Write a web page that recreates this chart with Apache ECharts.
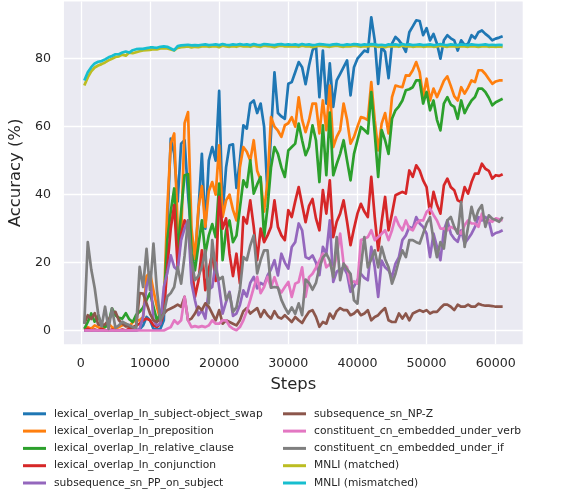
<!DOCTYPE html>
<html>
<head>
<meta charset="utf-8">
<script src="https://cdn.jsdelivr.net/npm/echarts@6/dist/echarts.min.js"></script>
<style>html,body{margin:0;padding:0;background:#fff;}#c{width:568px;height:492px;}</style>
</head>
<body>
<div id="c"></div>
<script>
// evaluation steps: every 500 steps from 500 to 61000
const steps = Array.from({length: 122}, (_, i) => (i + 1) * 500);
const xTicks = [0, 10000, 20000, 30000, 40000, 50000, 60000];
const yTicks = [0, 20, 40, 60, 80];
const names = [
  'lexical_overlap_ln_subject-object_swap',
  'lexical_overlap_ln_preposition',
  'lexical_overlap_ln_relative_clause',
  'lexical_overlap_ln_conjunction',
  'subsequence_sn_PP_on_subject',
  'subsequence_sn_NP-Z',
  'constituent_cn_embedded_under_verb',
  'constituent_cn_embedded_under_if',
  'MNLI (matched)',
  'MNLI (mismatched)'
];
const colors = ['#1f77b4','#ff7f0e','#2ca02c','#d62728','#9467bd','#8c564b','#e377c2','#7f7f7f','#bcbd22','#17becf'];

const subjObjSwap = [
  0,0,0,0,0,0,0,0,0,0,
  0,0,0,0,0,0,0.3,1.5,4,3,
  0.5,0.3,0.5,3,30,56.5,52,38,55,56,
  40,28,20.7,35,52,30,50,54,50,70.5,
  34.5,48,54.5,54.8,42,50,60.4,59.4,66.8,67.7,
  64,66.8,60,40,58,76,64,63,62.3,72.6,
  73.1,76,79,77.5,72.5,78,82.4,84,68.7,82.4,
  66.8,78.6,65.8,73.6,75.5,77.5,79.5,69.2,77.5,80,
  81.2,82.4,82,92.2,85.4,72.6,83.4,82,74.3,84.4,
  86.4,85.4,84,82,87.8,89.5,91.3,91.1,86.9,89,
  85.4,87.3,84.4,80,85.4,86.9,86,85.4,82.4,85.4,
  84,84.4,86.9,86,87.8,88.3,87.3,86.5,85.4,85.9,
  86.2,86.6
];
const preposition = [
  0.5,1,0.5,1.5,1,0.5,1,2,1,0.5,
  1,1.5,2,1,2.5,3,3,4,16,17,
  11.8,7,3,7,36,55,58,30,27,61,
  64.3,30,21,36,42.5,30.5,41,43.7,40,54.5,
  33.4,38.3,40,35.5,32.4,48,54,52.6,50,56,
  47,44.2,35,44,62.8,60,58.8,57,60.4,61,
  62.8,60,68.6,62,58.4,61.9,66.8,66.8,58,67.7,
  59,72.1,54,57,59,66.8,62,55,57,60,
  62.8,62.5,61.9,73.1,61.9,53,60.9,64,58,68.7,
  72.1,71.8,71.6,75.1,75,76.6,79,76,68.7,74.1,
  67.7,71.2,68.7,71,73.5,74.8,72,69,67.7,71.6,
  69.7,71.5,73.6,73.1,76.6,76.6,75.5,74,72.6,73.3,
  73.6,73.6
];
const relativeClause = [
  0.5,2.5,5,2.6,4.3,1.8,1,2,6.5,4.5,
  3.7,3.5,5.1,3.3,2.5,4.6,5.5,6.7,9,11,
  7,3,5,8,26.6,35,41.8,22.6,35,45.7,
  46,22.6,17.7,25,32.4,22.6,28,31.3,27.5,43.2,
  20.7,29.5,32.4,26,27.9,36,44.2,42.2,50.1,40.3,
  43,45.2,27.5,36.3,48,54,52,48,45.2,53,
  54,55,60.9,56,51.6,54,60.4,56,43.7,60.4,
  45.7,64.1,45.7,49,52,56,50,44.2,52,56,
  59.9,59,58,70.2,58,45.2,59,56,52,62.3,
  64.8,66,67.7,70.7,71,71.6,73.6,73.6,66.8,70.2,
  64.8,67.7,62,58.9,66.8,68.7,66.5,65.8,62.3,67.7,
  64,66,67.7,68.7,71.2,71.2,70.2,68.5,66.3,67.2,
  67.7,68.2
];
const conjunction = [
  0,0.5,0,0.3,0,0.5,0,0,0.3,0,
  0,0.3,0,0.5,1,1.5,2,3,3.5,3,
  1.5,1,2,5,18.7,30,36.9,18.7,28.5,32.4,
  30.8,20,9.9,14.6,23.6,11.9,18,22.6,14.6,39.3,
  30,33,22.6,16,22.6,13.9,33.4,31.5,38.3,30.5,
  20.7,30,26,28,30.5,38.3,30.5,28,26.6,35.4,
  33.4,38,42.2,37,31.9,36.7,38.7,33,29.5,41.3,
  34.4,44.2,27.5,32,34.4,38.3,32,25.1,30,34.4,
  37.3,35,33.4,45.2,33.4,23.6,32,39.3,29.5,34.4,
  39.8,40.3,40.8,40.3,47.1,45.2,48.6,47.1,44.2,42.2,
  34.4,40.8,37,34.4,42.7,44.7,42.2,41.3,38.3,37.8,
  42.2,40.3,43.7,46.2,46.2,49.1,47.6,47,44.7,45.7,
  45.5,46
];
const ppOnSubject = [
  0,0,0,0,0,0,0,0,0,0,
  0,0,0,0,0,0,0.5,4,13,17,
  3,1.5,2,12.8,17,22.1,18.7,17.7,26.6,30,
  32.4,14,8.9,4.5,6,3.5,12,12.8,20,12.8,
  5,8.4,11.4,4.3,5,7.5,11.8,10,14,15.8,
  12.4,14,13.4,16.2,18,20.7,16.2,22.6,20,18.2,
  24.6,26,31.5,29.5,21.6,21.1,22.1,20,16.3,24.6,
  22.6,32.4,14.3,17.3,18,18.6,16.7,11.4,13,14.8,
  16.7,15.5,14.8,24.6,18.6,9.9,20.6,18.6,17.7,15.8,
  19.7,21.6,26.6,28,30.5,30,33.4,31.5,30.5,28.5,
  21.6,28.5,24.6,20.7,29.5,32.4,28.5,27,26.1,29.5,
  25.6,27,28.5,30.5,33.4,32.4,33.4,32.4,28,28.7,
  29,29.5
];
const npZ = [
  2,4.5,3.4,5.1,1.8,1.5,1.8,3,5.1,5.5,
  3,2,1.2,1.2,0.8,1.2,11,10.9,8,5,
  3,2.5,3.5,5,6,6.5,7,7.6,7,9.9,
  3,3.5,5,7,6,8,7,5,3,6,
  2,3,2.5,2,1.5,3,5.7,6.6,5,5.8,
  6.6,4,6,4.5,3.5,5.7,4,3.5,4.5,3.5,
  2.5,4,3,2.2,4,5.5,6,4,1.1,2.5,
  2,5,3.5,5.7,6.6,6,6,4.5,5,6,
  4.5,5,6,3,4,4.5,5.7,6.6,3,2.5,
  2.5,5,3.5,5,3,5,5.5,6,5.5,6,
  5,5.5,5.5,6.6,7.6,7.6,7,6,7.6,7,
  7,7.6,7,7,7.9,7.5,7.3,7.3,7.2,7,
  7,7
];
const underVerb = [
  0,0,0,0,0,0,0,0,0,0,
  0,0,0,0,0,0,0,0,0,0,
  0,0,0,0,0.5,1,3,2,3,9.9,
  3,1,1.3,1,1.3,1,1.5,3,2,2,
  3,3,1.3,0.5,0.1,1,3,5.7,9,12.6,
  15.8,11,12.8,15.8,12.6,15.7,12.6,11.2,12.8,14.3,
  9.9,13.8,14.3,18.6,9.9,15.7,16.7,18.5,20.6,22.6,
  18.6,19.6,17.7,22,28.5,19.6,18.6,13.8,14.5,13.8,
  26.6,27,27.5,29.5,26.6,27.5,28.5,29.5,26.6,29.5,
  33.4,31,29.5,32.4,30,29.5,31.5,32.4,32.4,34.9,
  35.9,34,32.4,30,30,29.5,30.5,30,29.5,28.5,
  31,32.4,31.5,31.5,30.5,34.4,31.5,32.5,32,33,
  32.7,32.4
];
const underIf = [
  2,26,18,12.5,5,1.2,7,0.5,6.5,0.8,
  1.5,2.6,2,1.6,1,0.8,18.7,12.8,24,11.9,
  25.6,11.9,3,5,10,11,12.8,18.7,13.8,22,
  32.4,20.7,14.8,16,18.7,23.6,8,26.6,17.7,15,
  15.8,9,11,5.5,6.8,12,21.6,20.7,25,28,
  16.8,20.7,23.6,23.6,12.6,12.8,12.6,9,6.8,5,
  6.8,4.9,8,4.5,15,14,12,14,18.6,21.5,
  22.6,20.6,15.7,27.5,14.8,19.7,18,16.7,8.9,7.9,
  18.6,27.5,18.6,21,23.6,18.6,24.6,21,18.6,13.8,
  16.7,20.6,23.6,21.6,26.6,26.6,26,25.6,28.5,31.5,
  33.4,26.6,21.6,26,24.1,32.4,33.4,30.5,28.5,37.8,
  24.6,30.5,36.4,32.4,35.4,36.9,30.5,33.9,32.9,32.5,
  32,33.4
];
const mnliMatched = [
  72.1,74.5,76.3,77.4,78.0,78.4,78.9,79.5,80.0,80.5,
  80.7,81.2,80.9,81.8,81.6,81.9,82.2,82.4,82.5,82.6,
  82.8,82.7,83.0,83.1,83.0,82.7,82.4,83.2,83.4,83.5,
  83.6,83.3,83.5,83.4,83.6,83.7,83.5,83.6,83.7,83.4,
  83.8,83.6,83.5,83.7,83.5,83.8,83.6,83.7,83.5,83.8,
  83.6,83.5,83.8,83.7,83.6,83.4,83.7,83.8,83.6,83.7,
  83.6,83.7,83.5,83.8,83.6,83.7,83.4,83.6,83.8,83.7,
  83.6,83.5,83.7,83.8,83.6,83.5,83.7,83.6,83.8,83.7,
  83.5,83.7,83.6,83.8,83.7,83.5,83.6,83.4,83.7,83.6,
  83.7,83.5,83.8,83.6,83.7,83.5,83.6,83.7,83.5,83.6,
  83.7,83.5,83.6,83.8,83.6,83.5,83.7,83.6,83.5,83.7,
  83.6,83.5,83.7,83.6,83.5,83.6,83.7,83.5,83.6,83.5,
  83.6,83.5
];
const mnliMismatched = [
  73.6,76.0,77.5,78.6,79.1,79.3,79.8,80.4,80.8,81.3,
  81.3,81.8,82.1,81.8,82.5,82.8,82.9,82.9,83.1,83.3,
  83.3,83.2,83.5,83.6,83.5,83.0,82.5,83.7,83.9,84.0,
  84.1,83.9,84.0,83.9,84.1,84.2,84.0,84.1,84.2,84.0,
  84.3,84.1,84.0,84.2,84.1,84.3,84.1,84.2,84.0,84.3,
  84.1,84.0,84.3,84.2,84.1,84.0,84.2,84.3,84.1,84.2,
  84.1,84.2,84.0,84.3,84.1,84.2,84.0,84.1,84.3,84.2,
  84.1,84.0,84.2,84.3,84.1,84.0,84.2,84.1,84.3,84.2,
  84.0,84.2,84.1,84.3,84.2,84.0,84.1,83.9,84.2,84.1,
  84.2,84.0,84.3,84.1,84.2,84.0,84.1,84.2,84.0,84.1,
  84.2,84.0,84.1,84.3,84.1,84.0,84.2,84.1,84.0,84.2,
  84.1,84.0,84.2,84.1,84.0,84.1,84.2,84.0,84.1,84.0,
  84.1,84.0
];
const seriesValues = [subjObjSwap, preposition, relativeClause, conjunction, ppOnSubject,
  npZ, underVerb, underIf, mnliMatched, mnliMismatched];

const FONT = 'DejaVu Sans';
const TXT = '#262626';
const chart = echarts.init(document.getElementById('c'), null, {renderer: 'canvas'});
const legendIcon = 'path://M0,0 L23,0 L23,3 L0,3 Z';
const legendCommon = {
  orient: 'vertical', top: 408.3, height: 120, padding: 0,
  itemWidth: 23, itemHeight: 10, itemGap: 6.3,
  icon: legendIcon,
  textStyle: {fontFamily: FONT, fontSize: 10.7, lineHeight: 10, color: TXT, padding: [0, 0, 0, 3]}
};
chart.setOption({
  animation: false,
  backgroundColor: '#ffffff',
  grid: {left: 62.5, right: 45.3, top: 1.5, bottom: 147.7, show: true, backgroundColor: '#EAEAF2', borderWidth: 0},
  legend: [
    Object.assign({left: 23, data: names.slice(0, 5)}, legendCommon),
    Object.assign({left: 283, data: names.slice(5)}, legendCommon)
  ],
  xAxis: {
    type: 'value', min: -2450, max: 63900,
    name: 'Steps', nameLocation: 'middle', nameGap: 32,
    nameTextStyle: {fontFamily: FONT, fontSize: 16.4, color: TXT},
    axisLine: {show: false}, axisTick: {show: false, customValues: xTicks},
    axisLabel: {customValues: xTicks, formatter: v => String(v), fontFamily: FONT, fontSize: 12.6, color: TXT, margin: 13},
    splitLine: {show: true, lineStyle: {color: '#ffffff', width: 1.3}}
  },
  yAxis: {
    type: 'value', min: -4.06, max: 96.83,
    name: 'Accuracy (%)', nameLocation: 'middle', nameGap: 38,
    nameTextStyle: {fontFamily: FONT, fontSize: 16.4, color: TXT},
    axisLine: {show: false}, axisTick: {show: false, customValues: yTicks},
    axisLabel: {customValues: yTicks, formatter: v => String(v), fontFamily: FONT, fontSize: 12.6, color: TXT, margin: 13},
    splitLine: {show: true, lineStyle: {color: '#ffffff', width: 1.3}}
  },
  series: names.map((n, k) => ({
    name: n, type: 'line', showSymbol: false, symbol: 'none',
    color: colors[k],
    lineStyle: {width: 2.7, color: colors[k], join: 'round'},
    data: steps.map((s, i) => [s, seriesValues[k][i]])
  }))
});
</script>
</body>
</html>
